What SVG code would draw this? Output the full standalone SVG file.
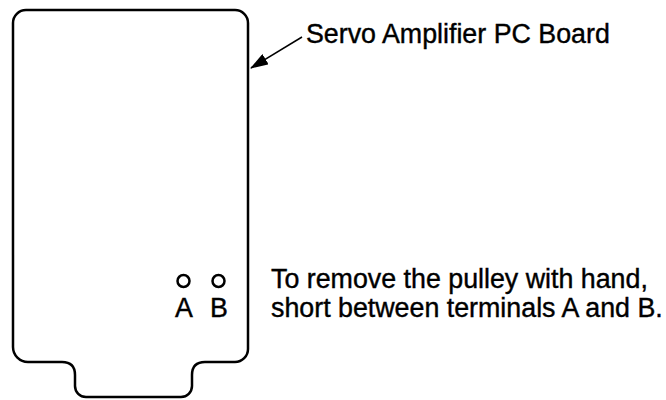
<svg xmlns="http://www.w3.org/2000/svg" width="666" height="400" viewBox="0 0 666 400">
<style>
.ln{fill:none;stroke:#000;stroke-width:2.5;stroke-linejoin:round;stroke-linecap:round}
.t{font-family:"Liberation Sans",Arial,sans-serif;font-size:26.8px;fill:#000;stroke:#000;stroke-width:0.4}
</style>
<defs>
<marker id="ah" markerWidth="18" markerHeight="12" refX="17" refY="6" orient="auto" markerUnits="userSpaceOnUse">
<path d="M0,0 L18,6 L0,12 Z" fill="#000"/>
</marker>
</defs>
<rect width="666" height="400" fill="#fff"/>
<g id="board">
<path class="ln" d="M26,10 H235 A13,13 0 0 1 248,23 V349 A13,13 0 0 1 235,362 H205 Q192,362 192,375 V386 A11,11 0 0 1 181,397 H86 A11,11 0 0 1 75,386 V375 Q75,362 62,362 H28 A15,15 0 0 1 13,347 V23 A13,13 0 0 1 26,10 Z"/>
</g>
<g id="terminalA">
<circle class="ln" cx="183.5" cy="281" r="6" stroke-width="2.3"/>
<text class="t" x="184" y="317" text-anchor="middle">A</text>
</g>
<g id="terminalB">
<circle class="ln" cx="218.5" cy="281" r="6" stroke-width="2.3"/>
<text class="t" x="219" y="317" text-anchor="middle">B</text>
</g>
<g id="label-board">
<text class="t" x="306" y="43">Servo Amplifier PC Board</text>
</g>
<g id="note">
<text class="t" x="271" y="288">To remove the pulley with hand,</text>
<text class="t" x="271" y="317">short between terminals A and B.</text>
</g>
<g id="connectors">
<line x1="302" y1="37" x2="251" y2="68" stroke="#000" stroke-width="1.5" marker-end="url(#ah)"/>
</g>
</svg>
